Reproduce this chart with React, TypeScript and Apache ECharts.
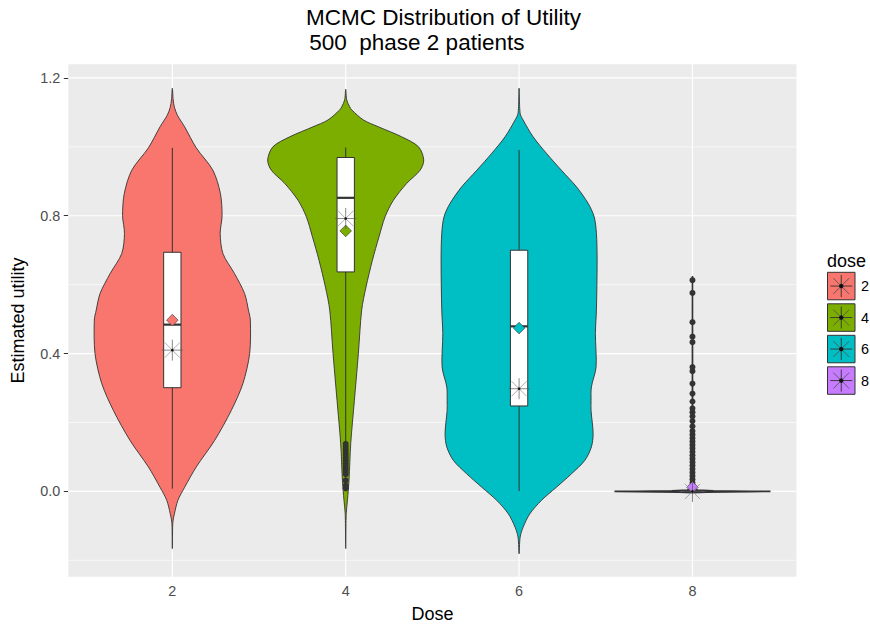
import React, { useEffect, useRef } from "react";
import * as echarts from "echarts";

const doses = ["2", "4", "6", "8"];
const doseColors = ["#F8766D", "#7CAE00", "#00BFC4", "#C77CFF"];

// violin outlines: [utility, half width in category units], from top to bottom
const violinDose2 = [
  [1.17, 0], [1.136, 0.005], [1.115, 0.012], [1.092, 0.029], [1.058, 0.071], [0.997, 0.138],
  [0.932, 0.234], [0.865, 0.277], [0.8, 0.287], [0.749, 0.276], [0.69, 0.292], [0.632, 0.359],
  [0.574, 0.417], [0.526, 0.439], [0.497, 0.45], [0.4, 0.446], [0.313, 0.407], [0.235, 0.34],
  [0.148, 0.244], [0.071, 0.138], [0.012, 0.071], [-0.026, 0.032], [-0.065, 0.012], [-0.089, 0.003], [-0.166, 0],
];
const violinDose4 = [
  [1.167, 0], [1.136, 0.006], [1.116, 0.023], [1.107, 0.035], [1.078, 0.102], [1.058, 0.189],
  [1.029, 0.323], [1.0, 0.42], [0.962, 0.45], [0.932, 0.429], [0.894, 0.352], [0.845, 0.275],
  [0.797, 0.227], [0.739, 0.192], [0.671, 0.154], [0.593, 0.117], [0.526, 0.092], [0.4, 0.073],
  [0.264, 0.05], [0.139, 0.029], [0.032, 0.019], [-0.026, 0.01], [-0.064, 0.003], [-0.166, 0],
];
const violinDose6 = [
  [1.17, 0], [1.097, 0.006], [1.078, 0.023], [1.029, 0.081], [0.981, 0.158], [0.932, 0.244],
  [0.884, 0.331], [0.836, 0.398], [0.797, 0.433], [0.749, 0.446], [0.671, 0.45], [0.526, 0.446],
  [0.458, 0.44], [0.361, 0.444], [0.303, 0.417], [0.264, 0.415], [0.235, 0.415], [0.168, 0.427],
  [0.129, 0.417], [0.09, 0.379], [0.051, 0.302], [0.012, 0.215], [-0.026, 0.129], [-0.065, 0.062],
  [-0.104, 0.023], [-0.133, 0.006], [-0.181, 0],
];
const violinDose8 = [
  [0.625, 0], [0.1, 0.0008], [0.02, 0.003], [0.008, 0.008], [0.004, 0.03], [0.002, 0.12],
  [0.0006, 0.33], [0, 0.45], [-0.0006, 0.33], [-0.002, 0.08], [-0.004, 0],
];
const violinProfiles = [violinDose2, violinDose4, violinDose6, violinDose8];

// box plot statistics
const boxWhiskerLow = [0.008, 0.143, 0.001, 0.0];
const boxQ1 = [0.301, 0.637, 0.248, 0.0];
const boxMedian = [0.484, 0.852, 0.479, 0.0];
const boxQ3 = [0.694, 0.969, 0.7, 0.002];
const boxWhiskerHigh = [0.997, 0.998, 0.991, 0.005];
const meanUtility = [0.497, 0.756, 0.474, 0.012];
const starUtility = [0.41, 0.792, 0.298, 0.0];

const outliersDose2: number[] = [];
const outliersDose4 = [0.138, 0.13, 0.122, 0.114, 0.106, 0.098, 0.09, 0.082, 0.074, 0.066, 0.058, 0.05, 0.032, 0.017, 0.009];
const outliersDose6: number[] = [];
const outliersDose8 = [
  0.613, 0.576, 0.491, 0.449, 0.433, 0.361, 0.349, 0.313, 0.284, 0.261, 0.241, 0.23, 0.218, 0.204, 0.189,
  0.175, 0.165, 0.155, 0.145, 0.135, 0.125, 0.115, 0.105, 0.095, 0.085, 0.075, 0.065, 0.055, 0.045,
  0.035, 0.025, 0.015, 0.008,
];
const outliers = [outliersDose2, outliersDose4, outliersDose6, outliersDose8];

const yTicks = [0, 0.4, 0.8, 1.2];
const yMinorGrid = [-0.2, 0.2, 0.6, 1.0];
const xTicks = [1, 2, 3, 4];

const FONT = "'Liberation Sans', Arial, sans-serif";
const Y_MIN = -0.2475;
const Y_MAX = 1.2395;
const X_MIN = 0.4;
const X_MAX = 4.6;

function starChildren(cx: number, cy: number, r: number, stroke: string, diagStroke: string, w: number, dot: number) {
  const d = r * 0.72;
  return [
    { type: "line", shape: { x1: cx - r, y1: cy, x2: cx + r, y2: cy }, style: { stroke, lineWidth: w } },
    { type: "line", shape: { x1: cx, y1: cy - r, x2: cx, y2: cy + r }, style: { stroke, lineWidth: w } },
    { type: "line", shape: { x1: cx - d, y1: cy - d, x2: cx + d, y2: cy + d }, style: { stroke: diagStroke, lineWidth: w } },
    { type: "line", shape: { x1: cx - d, y1: cy + d, x2: cx + d, y2: cy - d }, style: { stroke: diagStroke, lineWidth: w } },
    { type: "circle", shape: { cx, cy, r: dot }, style: { fill: "#111111" } },
  ];
}

export default function App() {
  const ref = useRef<HTMLDivElement>(null);

  useEffect(() => {
    if (!ref.current) return;
    const chart = echarts.init(ref.current, undefined, { renderer: "svg" });

    const renderGrid = (_params: any, api: any) => {
      const children: any[] = [];
      yMinorGrid.forEach((v) => {
        const a = api.coord([X_MIN, v]);
        const b = api.coord([X_MAX, v]);
        children.push({ type: "line", shape: { x1: a[0], y1: a[1], x2: b[0], y2: b[1] }, style: { stroke: "#FFFFFF", lineWidth: 0.6 } });
      });
      yTicks.forEach((v) => {
        const a = api.coord([X_MIN, v]);
        const b = api.coord([X_MAX, v]);
        children.push({ type: "line", shape: { x1: a[0], y1: a[1], x2: b[0], y2: b[1] }, style: { stroke: "#FFFFFF", lineWidth: 1.2 } });
      });
      xTicks.forEach((x) => {
        const a = api.coord([x, Y_MIN]);
        const b = api.coord([x, Y_MAX]);
        children.push({ type: "line", shape: { x1: a[0], y1: a[1], x2: b[0], y2: b[1] }, style: { stroke: "#FFFFFF", lineWidth: 1.2 } });
      });
      return { type: "group", children };
    };

    const renderViolin = (params: any, api: any) => {
      const i = params.dataIndex;
      const cx = i + 1;
      const prof = violinProfiles[i];
      const left = prof.map(([v, w]) => api.coord([cx - w, v]));
      const right = prof.slice().reverse().map(([v, w]) => api.coord([cx + w, v]));
      const children: any[] = [];
      children.push({
        type: "polygon",
        shape: { points: left.concat(right.slice(1, -1)), smooth: i === 3 ? 0 : 0.3 },
        style: { fill: doseColors[i], stroke: "#333333", lineWidth: i === 3 ? 1.6 : 0.9 },
      });
      const pHi = api.coord([cx, boxWhiskerHigh[i]]);
      const pQ3 = api.coord([cx, boxQ3[i]]);
      const pQ1 = api.coord([cx, boxQ1[i]]);
      const pLo = api.coord([cx, boxWhiskerLow[i]]);
      children.push({ type: "line", shape: { x1: pHi[0], y1: pHi[1], x2: pQ3[0], y2: pQ3[1] }, style: { stroke: "#333333", lineWidth: 1 } });
      children.push({ type: "line", shape: { x1: pQ1[0], y1: pQ1[1], x2: pLo[0], y2: pLo[1] }, style: { stroke: "#333333", lineWidth: 1 } });
      const tl = api.coord([cx - 0.05, boxQ3[i]]);
      const br = api.coord([cx + 0.05, boxQ1[i]]);
      children.push({
        type: "rect",
        shape: { x: tl[0], y: tl[1], width: br[0] - tl[0], height: Math.max(br[1] - tl[1], 0.6) },
        style: { fill: "#FFFFFF", stroke: "#333333", lineWidth: 1 },
      });
      const mL = api.coord([cx - 0.05, boxMedian[i]]);
      const mR = api.coord([cx + 0.05, boxMedian[i]]);
      children.push({ type: "line", shape: { x1: mL[0], y1: mL[1], x2: mR[0], y2: mR[1] }, style: { stroke: "#333333", lineWidth: 2.2 } });
      outliers[i].forEach((v) => {
        const p = api.coord([cx, v]);
        children.push({ type: "circle", shape: { cx: p[0], cy: p[1], r: 3 }, style: { fill: "#333333" } });
      });
      const dm = api.coord([cx, meanUtility[i]]);
      const s = 5.8;
      children.push({
        type: "polygon",
        shape: { points: [[dm[0], dm[1] - s], [dm[0] + s, dm[1]], [dm[0], dm[1] + s], [dm[0] - s, dm[1]]] },
        style: { fill: doseColors[i], stroke: "#333333", lineWidth: 0.6 },
      });
      const st = api.coord([cx, starUtility[i]]);
      starChildren(st[0], st[1], 10.5, "#555555", "#888888", 0.7, 1.3).forEach((c) => children.push(c));
      return { type: "group", children };
    };

    const legendGraphics: any[] = [
      {
        type: "text", x: 827, y: 261,
        style: { text: "dose", fontSize: 18, fontFamily: FONT, fill: "#000000", align: "left", verticalAlign: "middle" },
      },
    ];
    doses.forEach((d, i) => {
      const y0 = 272.3 + i * 31.5;
      const size = 27.5;
      legendGraphics.push({
        type: "rect", shape: { x: 827.5, y: y0, width: size, height: size },
        style: { fill: doseColors[i], stroke: "#333333", lineWidth: 1 },
      });
      legendGraphics.push({
        type: "group",
        children: starChildren(827.5 + size / 2, y0 + size / 2, 11, "#333333", "#555555", 0.9, 2.2),
      });
      legendGraphics.push({
        type: "text", x: 861, y: y0 + size / 2,
        style: { text: d, fontSize: 14.4, fontFamily: FONT, fill: "#000000", align: "left", verticalAlign: "middle" },
      });
    });

    const option: any = {
      animation: false,
      backgroundColor: "#FFFFFF",
      grid: {
        left: 68.3, right: 73.5, top: 64.3, bottom: 50.3,
        show: true, backgroundColor: "#EBEBEB", borderWidth: 0,
        containLabel: false, outerBoundsMode: "none",
      },
      xAxis: {
        type: "value", min: X_MIN, max: X_MAX,
        axisLine: { show: false },
        splitLine: { show: false },
        axisTick: { show: true, customValues: xTicks, length: 4.5, lineStyle: { color: "#333333", width: 1 } },
        axisLabel: {
          customValues: xTicks,
          formatter: (v: number) => doses[Math.round(v) - 1] ?? "",
          color: "#4D4D4D", fontSize: 14.4, fontFamily: FONT, margin: 7,
        },
      },
      yAxis: {
        type: "value", min: Y_MIN, max: Y_MAX,
        axisLine: { show: false },
        splitLine: { show: false },
        axisTick: { show: true, customValues: yTicks, length: 4.5, lineStyle: { color: "#333333", width: 1 } },
        axisLabel: {
          customValues: yTicks,
          formatter: (v: number) => v.toFixed(1),
          color: "#4D4D4D", fontSize: 14.4, fontFamily: FONT, margin: 8,
        },
      },
      series: [
        {
          type: "custom", name: "grid", silent: true, z: 1,
          renderItem: renderGrid,
          data: [[1, 0]],
          encode: { x: 0, y: 1 },
        },
        {
          type: "custom", name: "dose", z: 2,
          renderItem: renderViolin,
          data: doses.map((_, i) => [i + 1, boxMedian[i]]),
          encode: { x: 0, y: 1 },
        },
      ],
      graphic: [
        {
          type: "text", x: 443.5, y: 17,
          style: { text: "MCMC Distribution of Utility", fontSize: 22.5, fontFamily: FONT, fill: "#000000", align: "center", verticalAlign: "middle" },
        },
        {
          type: "text", x: 303, y: 42,
          style: { text: " 500  phase 2 patients", fontSize: 22.5, fontFamily: FONT, fill: "#000000", align: "left", verticalAlign: "middle" },
        },
        {
          type: "text", x: 432.4, y: 614,
          style: { text: "Dose", fontSize: 18, fontFamily: FONT, fill: "#000000", align: "center", verticalAlign: "middle" },
        },
        {
          type: "text", x: 18, y: 320.5, rotation: Math.PI / 2,
          style: { text: "Estimated utility", fontSize: 18, fontFamily: FONT, fill: "#000000", align: "center", verticalAlign: "middle" },
        },
        ...legendGraphics,
      ],
    };

    chart.setOption(option);
    return () => chart.dispose();
  }, []);

  return (
    <div
      ref={ref}
      style={{ position: "fixed", left: 0, top: 0, width: 870, height: 627, background: "#FFFFFF" }}
    />
  );
}
